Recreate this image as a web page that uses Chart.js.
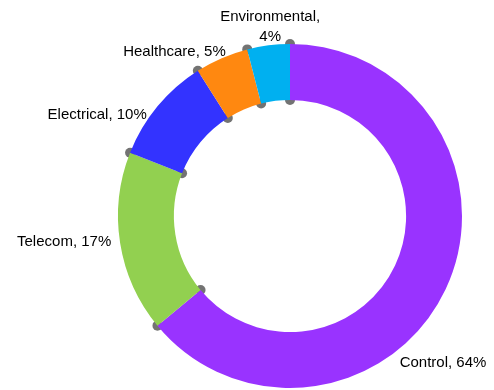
<!DOCTYPE html>
<html>
<head>
<meta charset="utf-8">
<script src="https://cdn.jsdelivr.net/npm/chart.js@4"></script>
<style>
  html, body { margin: 0; padding: 0; background: #fff; }
  #wrap { width: 494px; height: 390px; }
</style>
</head>
<body>
<div id="wrap"><canvas id="chart" width="494" height="390"></canvas></div>
<script>
/* global Chart */

const categories = ["Control", "Telecom", "Electrical", "Healthcare", "Environmental"];
const shares = [64, 17, 10, 5, 4];
const sliceColors = ["#9933FF", "#92D050", "#3333FF", "#FF8810", "#00B0F0"];

// gray knobs at each slice boundary, drawn behind the ring
const boundaryDots = {
  id: "boundaryDots",
  beforeDatasetsDraw(chart, _args, opts) {
    const { ctx } = chart;
    const meta = chart.getDatasetMeta(0);
    ctx.save();
    ctx.fillStyle = opts.color;
    for (const arc of meta.data) {
      const p = arc.getProps(["x", "y", "startAngle", "innerRadius", "outerRadius"], true);
      for (const r of [p.innerRadius, p.outerRadius]) {
        ctx.beginPath();
        ctx.arc(p.x + r * Math.cos(p.startAngle), p.y + r * Math.sin(p.startAngle), opts.radius, 0, Math.PI * 2);
        ctx.fill();
      }
    }
    ctx.restore();
  }
};

const sliceLabels = {
  id: "sliceLabels",
  afterDatasetsDraw(chart, _args, opts) {
    const { ctx } = chart;
    const meta = chart.getDatasetMeta(0);
    ctx.save();
    ctx.font = opts.font;
    ctx.fillStyle = opts.color;
    ctx.textBaseline = "middle";
    meta.data.forEach((arc, i) => {
      const p = arc.getProps(["x", "y", "startAngle", "endAngle", "outerRadius"], true);
      const mid = (p.startAngle + p.endAngle) / 2;
      const r = p.outerRadius + opts.gap;
      const nudge = opts.nudge[i] || [0, 0];
      const x = p.x + r * Math.cos(mid) + nudge[0];
      const y = p.y + r * Math.sin(mid) + nudge[1];
      const c = Math.cos(mid);
      let align = c < -0.2 ? "right" : (c > 0.2 ? "left" : "center");
      if (opts.align[i]) align = opts.align[i];
      ctx.textAlign = align;
      const full = `${categories[i]}, ${shares[i]}%`;
      const lines = ctx.measureText(full).width > opts.maxWidth
        ? [`${categories[i]},`, `${shares[i]}%`]
        : [full];
      lines.forEach((ln, k) => {
        ctx.fillText(ln, x, y - (lines.length - 1 - k) * opts.lineHeight);
      });
    });
    ctx.restore();
  }
};

new Chart(document.getElementById("chart").getContext("2d"), {
  type: "doughnut",
  data: {
    labels: categories,
    datasets: [{
      data: shares,
      backgroundColor: sliceColors,
      borderWidth: 0
    }]
  },
  options: {
    responsive: false,
    animation: false,
    cutout: "67.5%",
    rotation: 0,
    layout: { padding: { left: 118, right: 32, top: 44, bottom: 2 } },
    plugins: {
      legend: { display: false },
      tooltip: { enabled: false },
      boundaryDots: { radius: 5, color: "rgba(100, 100, 100, 0.9)" },
      sliceLabels: {
        font: "15px 'Liberation Sans', Arial, sans-serif",
        color: "#000",
        gap: 10,
        maxWidth: 115,
        lineHeight: 20,
        nudge: [[-55, 69], [1, -3], [-3, 15], [8, 3], [3, 1]],
        align: ["left", null, null, null, "center"]
      }
    }
  },
  plugins: [boundaryDots, sliceLabels]
});
</script>
</body>
</html>
